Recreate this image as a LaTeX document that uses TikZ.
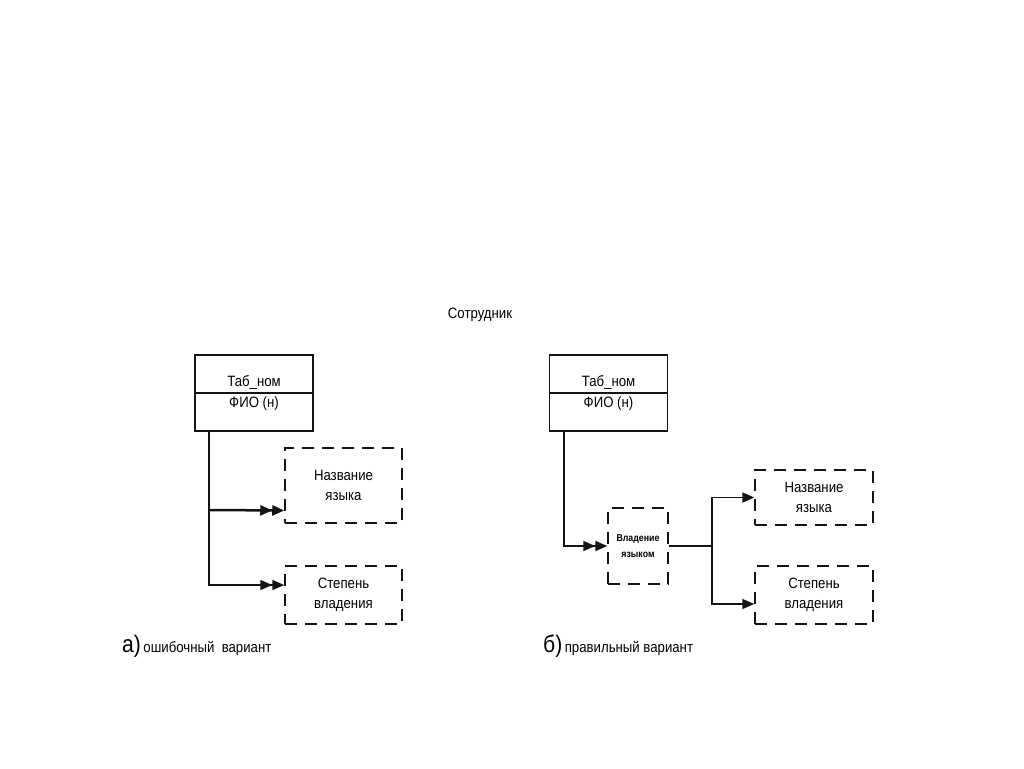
\documentclass[tikz,border=0pt]{standalone}
\usepackage{fontspec}
\setmainfont{Liberation Sans}[FakeStretch=0.88]
\usepackage{xcolor}
\usetikzlibrary{arrows.meta,positioning}
\definecolor{inkgrey}{RGB}{20,20,20}
\newcommand{\labelfont}{\fontsize{15}{20}\selectfont}
\newcommand{\tinyfont}{\fontsize{10}{16}\selectfont\bfseries}
\newcommand{\bigletter}{\fontsize{24}{24}\selectfont}
\tikzset{
  entity/.style={draw=inkgrey,line width=1.6pt,minimum width=118pt,
    minimum height=76pt,inner sep=0pt},
  attrbox/.style={draw=inkgrey,line width=1.5pt,dash pattern=on 12pt off 8pt,
    minimum width=117pt,align=center,inner sep=0pt,font=\labelfont},
  keytext/.style={font=\labelfont,inner sep=0pt},
  flow/.style={draw=inkgrey,line width=1.7pt,
    -{Triangle[length=12pt,width=10pt]}},
  dblflow/.style={draw=inkgrey,line width=1.7pt,
    -{Triangle[length=12pt,width=10pt]Triangle[length=12pt,width=10pt]}},
  caption/.style={font=\labelfont,inner sep=0pt,anchor=base west}
}

\begin{document}
\begin{tikzpicture}[x=1pt,y=-1pt]
  \useasboundingbox[fill=white] (0,0) rectangle (1024,768);
  \node[keytext] (title) at (480,315) {Сотрудник};

  % a) wrong variant
  \node[entity] (emp1) at (254,393) {};
  \draw[line width=1.3pt,draw=inkgrey] (emp1.west) -- (emp1.east);
  \node[keytext] (key1) at (254,382) {Таб\_ном};
  \node[keytext] (fio1) at (254,404) {ФИО (н)};
  \node[attrbox,minimum height=75pt] (lang1) at (343.5,485.5)
    {Название\\языка};
  \node[attrbox,minimum height=58pt] (deg1) at (343.5,595)
    {Степень\\владения};
  \coordinate (fork1) at (210,510);
  \draw[dblflow] ([xshift=15pt]emp1.south west) |- ([yshift=10pt]deg1.west);
  \draw[dblflow,line width=2.5pt] (fork1) -- ([yshift=-25pt]lang1.west);
  \node[caption] (capa) at (122,652)
    {{\bigletter а)}\,ошибочный\ \ вариант};

  % b) right variant
  \node[entity] (emp2) at (608.5,393) {};
  \draw[line width=1.3pt,draw=inkgrey] (emp2.west) -- (emp2.east);
  \node[keytext] (key2) at (608.5,382) {Таб\_ном};
  \node[keytext] (fio2) at (608.5,404) {ФИО (н)};
  \node[attrbox,minimum width=60pt,minimum height=76pt,font=\tinyfont]
    (own) at (638,546) {Владение\\языком};
  \node[attrbox,minimum width=118pt,minimum height=55pt] (lang2)
    at (814,497.5) {Название\\языка};
  \node[attrbox,minimum width=118pt,minimum height=58pt] (deg2)
    at (814,595) {Степень\\владения};
  \coordinate (fork2) at (712,546);
  \draw[dblflow] ([xshift=15pt]emp2.south west) |- (own.west);
  \draw[line width=1.7pt,draw=inkgrey] (own.east) -- (fork2);
  \draw[flow] (fork2) |- (lang2.west);
  \draw[flow] (fork2) |- ([yshift=-9pt]deg2.west);
  \node[caption] (capb) at (543,652)
    {{\bigletter б)}\,правильный вариант};
\end{tikzpicture}
\end{document}
